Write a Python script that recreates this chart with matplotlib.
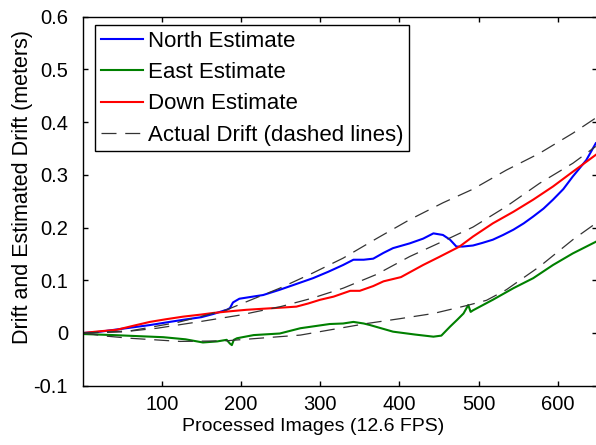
import matplotlib
matplotlib.use("Agg")
from matplotlib import pyplot as plt

plt.rcParams['font.family'] = ['Liberation Sans', 'DejaVu Sans']

# North estimate (blue)
north_x = [1, 20, 40, 60, 85, 110, 127, 150, 165, 182, 186, 190, 198, 215, 228, 249, 270, 291, 310, 329,
           342, 355, 367, 380, 392, 413, 430, 443, 455, 464, 472, 480, 493, 505, 518, 531, 544, 557, 569,
           582, 594, 607, 619, 636, 648]
north_y = [0, 0.002, 0.006, 0.010, 0.015, 0.021, 0.025, 0.030, 0.036, 0.044, 0.047, 0.058, 0.065, 0.069,
           0.072, 0.082, 0.093, 0.104, 0.116, 0.129, 0.139, 0.139, 0.141, 0.152, 0.161, 0.170, 0.179, 0.189,
           0.186, 0.177, 0.164, 0.164, 0.166, 0.171, 0.177, 0.186, 0.196, 0.208, 0.221, 0.236, 0.253, 0.273,
           0.297, 0.328, 0.360]

# East estimate (green)
east_x = [1, 20, 39, 70, 102, 130, 152, 170, 182, 186, 188.5, 191, 195, 216, 249, 275, 312, 329, 342, 355,
          363, 392, 420, 443, 453, 464, 473, 481, 487, 490, 493, 518, 544, 569, 594, 619, 648]
east_y = [-0.002, -0.003, -0.004, -0.006, -0.008, -0.012, -0.018, -0.016, -0.013, -0.020, -0.023, -0.013,
          -0.010, -0.004, -0.001, 0.009, 0.017, 0.018, 0.021, 0.018, 0.015, 0.0025, -0.003, -0.007, -0.005,
          0.012, 0.025, 0.037, 0.053, 0.040, 0.043, 0.063, 0.085, 0.104, 0.129, 0.151, 0.173]

# Down estimate (red)
down_x = [1, 20, 43, 65, 85, 105, 127, 150, 165, 185, 207, 228, 250, 270, 285, 300, 317, 338, 350, 367,
          380, 402, 430, 450, 476, 493, 518, 544, 569, 594, 619, 648]
down_y = [0, 0.003, 0.006, 0.014, 0.021, 0.026, 0.031, 0.035, 0.038, 0.041, 0.044, 0.046, 0.048, 0.050,
          0.056, 0.063, 0.069, 0.080, 0.080, 0.089, 0.098, 0.106, 0.129, 0.144, 0.164, 0.183, 0.208, 0.230,
          0.253, 0.278, 0.306, 0.338]

# Actual drift (dashed)
act_n_x = [1, 60, 120, 182, 249, 291, 329, 371, 413, 455, 493, 535, 577, 619, 648]
act_n_y = [0, 0.004, 0.020, 0.044, 0.085, 0.114, 0.142, 0.179, 0.215, 0.247, 0.273, 0.309, 0.341, 0.379, 0.408]

act_d_x = [1, 50, 94, 150, 199, 250, 290, 329, 371, 413, 455, 493, 535, 577, 619, 648]
act_d_y = [0, 0.002, 0.009, 0.022, 0.034, 0.050, 0.066, 0.085, 0.111, 0.145, 0.174, 0.201, 0.240, 0.284,
           0.322, 0.354]

act_e_x = [1, 30, 60, 123, 180, 249, 275, 313, 359, 400, 443, 485, 510, 535, 577, 619, 648]
act_e_y = [0, -0.006, -0.010, -0.016, -0.015, -0.007, -0.004, 0.006, 0.018, 0.027, 0.037, 0.052, 0.062,
           0.082, 0.126, 0.177, 0.208]

fig = plt.figure(figsize=(5.96, 4.45), dpi=100)
ax = fig.add_axes([0.1398, 0.1333, 0.8625, 0.829])

lw = 1.5
ax.plot(north_x, north_y, color=(0, 0, 1), lw=lw, label="North Estimate")
ax.plot(east_x, east_y, color=(0, 0.5, 0), lw=lw, label="East Estimate")
ax.plot(down_x, down_y, color=(1, 0, 0), lw=lw, label="Down Estimate")
dash = dict(color='#333333', lw=0.9, dashes=(12, 7))
ax.plot(act_n_x, act_n_y, label="Actual Drift (dashed lines)", **dash)
ax.plot(act_d_x, act_d_y, **dash)
ax.plot(act_e_x, act_e_y, **dash)

ax.set_xlim(1, 650)
ax.set_ylim(-0.1, 0.6)
ax.set_xticks([100, 200, 300, 400, 500, 600])
ax.set_yticks([-0.1, 0, 0.1, 0.2, 0.3, 0.4, 0.5, 0.6])
ax.set_yticklabels(['-0.1', '0', '0.1', '0.2', '0.3', '0.4', '0.5', '0.6'])
ax.tick_params(direction='in', top=True, right=True, labelsize=14.5, length=3.5, width=1)
ax.tick_params(axis='y', pad=11)
ax.tick_params(axis='x', pad=7)
for s in ax.spines.values():
    s.set_linewidth(1.0)

ax.set_xlabel("Processed Images (12.6 FPS)", fontsize=14)
ax.xaxis.set_label_coords(0.447, -0.088)
ax.set_ylabel("Drift and Estimated Drift (meters)", fontsize=15.5)
ax.yaxis.set_label_coords(-0.098, 0.538)

leg = ax.legend(loc='upper left', bbox_to_anchor=(95 / 596, 1 - 25 / 445),
                bbox_transform=fig.transFigure, fontsize=16, fancybox=False,
                framealpha=1, edgecolor='k', handlelength=1.9, handletextpad=0.25,
                labelspacing=0.47, borderpad=0.25, borderaxespad=0)
leg.get_frame().set_linewidth(1.0)

fig.savefig("out.png", dpi=100)
